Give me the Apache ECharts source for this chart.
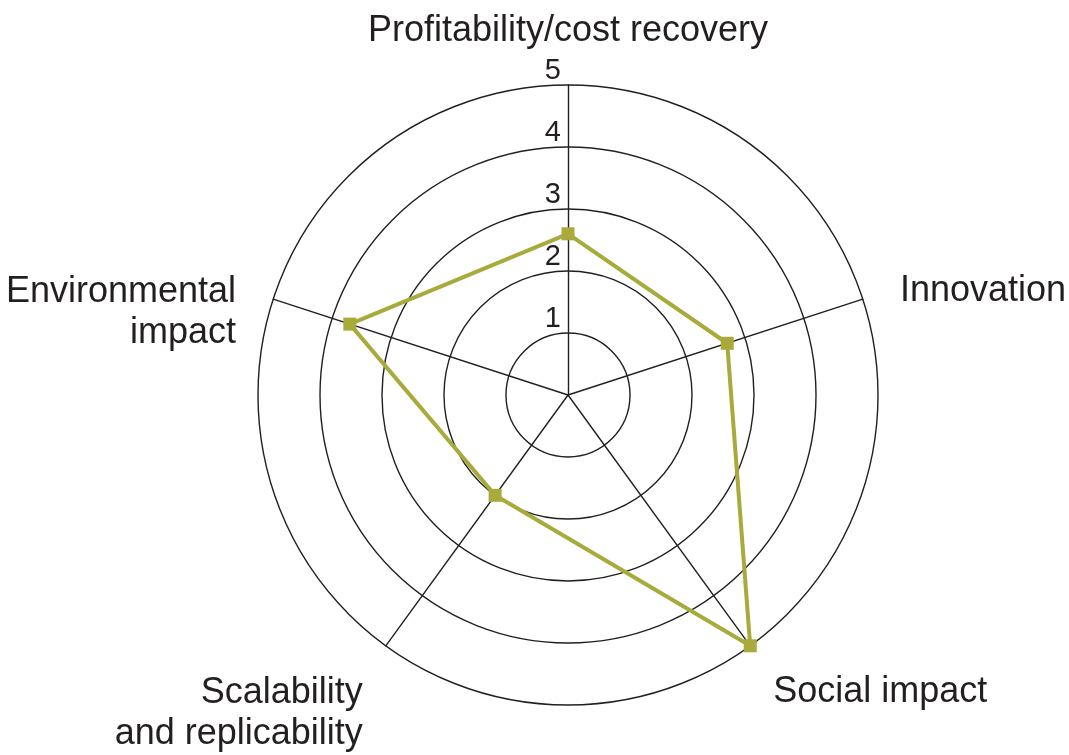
<!DOCTYPE html>
<html>
<head>
    <meta charset="UTF-8">
    <title>Radar</title>
    <script src="https://cdn.jsdelivr.net/npm/echarts/dist/echarts.min.js"></script>
    <style>
        body { margin: 0; padding: 0; background: #ffffff; }
        #chart { width: 1069px; height: 755px; }
    </style>
</head>
<body>
    <div id="chart"></div>
    <script>
        // indicators in counterclockwise order (echarts radar goes that way)
        const indicators = ['Profitability/cost recovery', 'Environmental\nimpact', 'Scalability\nand replicability', 'Social impact', 'Innovation'];
        const scores = [2.6, 3.7, 2.0, 5.0, 2.7];
        const tickLabels = ['', '1', '2', '3', '4', '5'];
        const maxScore = 5;

        // push some names down a bit (px) so they sit like the original
        const nameShift = { 'Environmental\nimpact': 25, 'Scalability\nand replicability': 36, 'Social impact': 15, 'Innovation': 4 };

        const ink = '#231f20';
        const olive = '#a8aa3c';

        const rich = {
            n: { fontSize: 36, lineHeight: 41, color: ink },
            top: { fontSize: 36, lineHeight: 30, color: ink }
        };
        indicators.forEach((n, i) => {
            if (nameShift[n]) rich['g' + i] = { fontSize: 2, lineHeight: nameShift[n] * 2 };
        });

        const chart = echarts.init(document.getElementById('chart'));
        chart.setOption({
            animation: false,
            textStyle: { fontFamily: 'Liberation Sans, Arial, sans-serif' },
            radar: {
                center: [568, 395],
                radius: 310,
                shape: 'circle',
                splitNumber: 5,
                axisNameGap: 39,
                indicator: indicators.map(n => ({ name: n, min: 0, max: maxScore })),
                axisName: {
                    color: ink,
                    fontSize: 36,
                    formatter: function (name) {
                        const i = indicators.indexOf(name);
                        const st = i === 0 ? 'top' : 'n';
                        let s = name.split('\n').map(l => '{' + st + '|' + l + '}').join('\n');
                        if (nameShift[name]) s = '{g' + i + '| }\n' + s;
                        return s;
                    },
                    rich: rich
                },
                axisLine: { lineStyle: { color: ink, width: 1.4 } },
                splitLine: { lineStyle: { color: ink, width: 1.4 } },
                splitArea: { show: false },
                axisTick: { show: false },
                axisLabel: { show: false }
            },
            polar: { center: [568, 395], radius: 310 },
            angleAxis: { type: 'value', min: 0, max: 360, show: false },
            radiusAxis: {
                type: 'value',
                min: 0,
                max: maxScore,
                interval: 1,
                axisLine: { show: false },
                axisTick: { show: false },
                splitLine: { show: false },
                axisLabel: {
                    color: ink,
                    fontSize: 29,
                    margin: 7,
                    verticalAlign: 'bottom',
                    formatter: v => tickLabels[v] || ''
                }
            },
            series: [{
                type: 'radar',
                symbol: 'rect',
                symbolSize: 13,
                lineStyle: { color: olive, width: 4 },
                itemStyle: { color: olive },
                data: [{ value: scores }]
            }]
        });
    </script>
</body>
</html>
